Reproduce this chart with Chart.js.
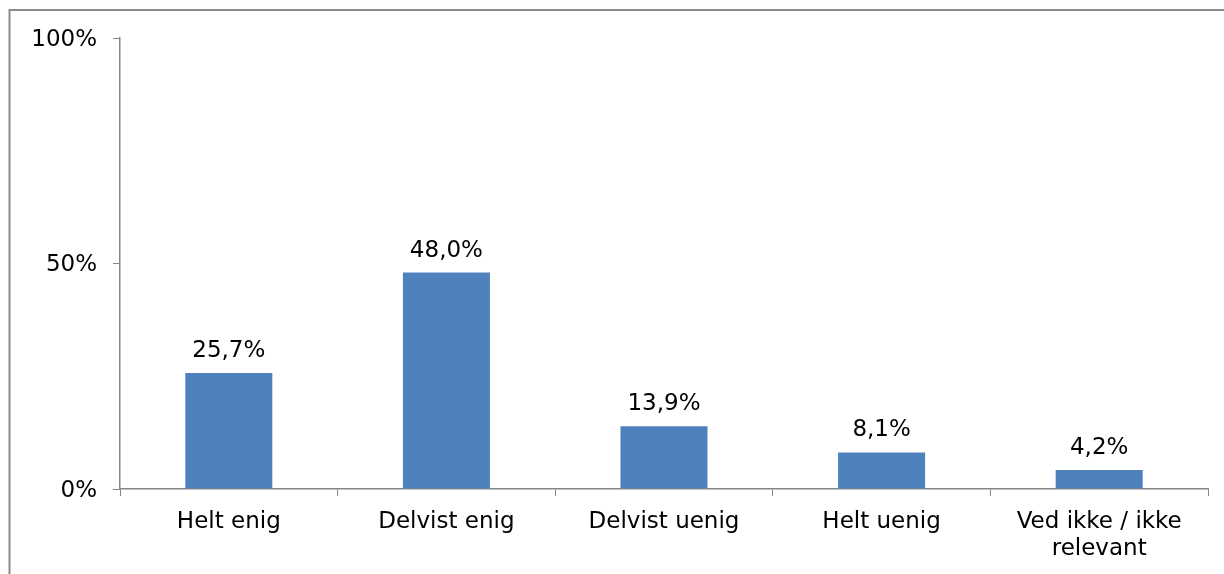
<!DOCTYPE html>
<html>
<head>
<meta charset="utf-8">
<script src="https://cdn.jsdelivr.net/npm/chart.js@4/dist/chart.umd.min.js"></script>
<style>
  html, body { margin: 0; padding: 0; background: #ffffff; }
  #wrap { position: relative; width: 1224px; height: 574px; overflow: hidden; }
  canvas { display: block; }
</style>
</head>
<body>
<div id="wrap"><canvas id="chart" width="1224" height="574"></canvas></div>
<script>
// Answer categories and share of respondents (%)
const categories = ['Helt enig', 'Delvist enig', 'Delvist uenig', 'Helt uenig', ['Ved ikke / ikke', 'relevant']];
const shares = [25.7, 48.0, 13.9, 8.1, 4.2];
const yTicks = [0, 50, 100];

const FONT = 'Verdana, "DejaVu Sans", sans-serif';
const AXIS = '#868686';

// Outer frame that runs off the right and bottom edges
const framePlugin = {
  id: 'frame',
  beforeDraw(chart) {
    const ctx = chart.ctx;
    ctx.save();
    ctx.strokeStyle = '#8c8c8c';
    ctx.lineWidth = 2;
    ctx.strokeRect(9.5, 10, 1400, 800);
    ctx.restore();
  }
};

// Value labels above each bar, decimal comma
const valueLabels = {
  id: 'valueLabels',
  afterDatasetsDraw(chart) {
    const ctx = chart.ctx;
    const meta = chart.getDatasetMeta(0);
    ctx.save();
    ctx.font = '23px ' + FONT;
    ctx.fillStyle = '#000000';
    ctx.textAlign = 'center';
    ctx.textBaseline = 'alphabetic';
    meta.data.forEach((bar, i) => {
      const v = chart.data.datasets[0].data[i];
      ctx.fillText(v.toFixed(1).replace('.', ',') + '%', bar.x, bar.y - 16);
    });
    ctx.restore();
  }
};

new Chart(document.getElementById('chart'), {
  type: 'bar',
  data: {
    labels: categories,
    datasets: [{
      data: shares,
      backgroundColor: '#4f81bd',
      borderWidth: 0,
      barPercentage: 0.4,
      categoryPercentage: 1.0
    }]
  },
  options: {
    responsive: false,
    animation: false,
    devicePixelRatio: 1,
    layout: { padding: { top: 38, right: 16, left: 0, bottom: 0 } },
    plugins: { legend: { display: false }, tooltip: { enabled: false } },
    scales: {
      x: {
        offset: true,
        grid: { display: true, drawOnChartArea: false, drawTicks: true, tickLength: 7, color: AXIS, offset: true },
        border: { display: true, color: AXIS, width: 1.5 },
        ticks: { color: '#000000', padding: 12, maxRotation: 0, autoSkip: false,
                 font: { family: FONT, size: 23, lineHeight: 1.18 } },
        afterFit(scale) { scale.height = 574 - 489; }
      },
      y: {
        min: 0, max: 100,
        afterBuildTicks(scale) { scale.ticks = yTicks.map(v => ({ value: v })); },
        grid: { display: true, drawOnChartArea: false, drawTicks: true, tickLength: 7, color: AXIS },
        border: { display: true, color: AXIS, width: 1.5 },
        ticks: { color: '#000000', padding: 16, labelOffset: 2, callback: v => v + '%',
                 font: { family: FONT, size: 23 } },
        afterFit(scale) { scale.width = 120; }
      }
    }
  },
  plugins: [framePlugin, valueLabels]
});
</script>
</body>
</html>
